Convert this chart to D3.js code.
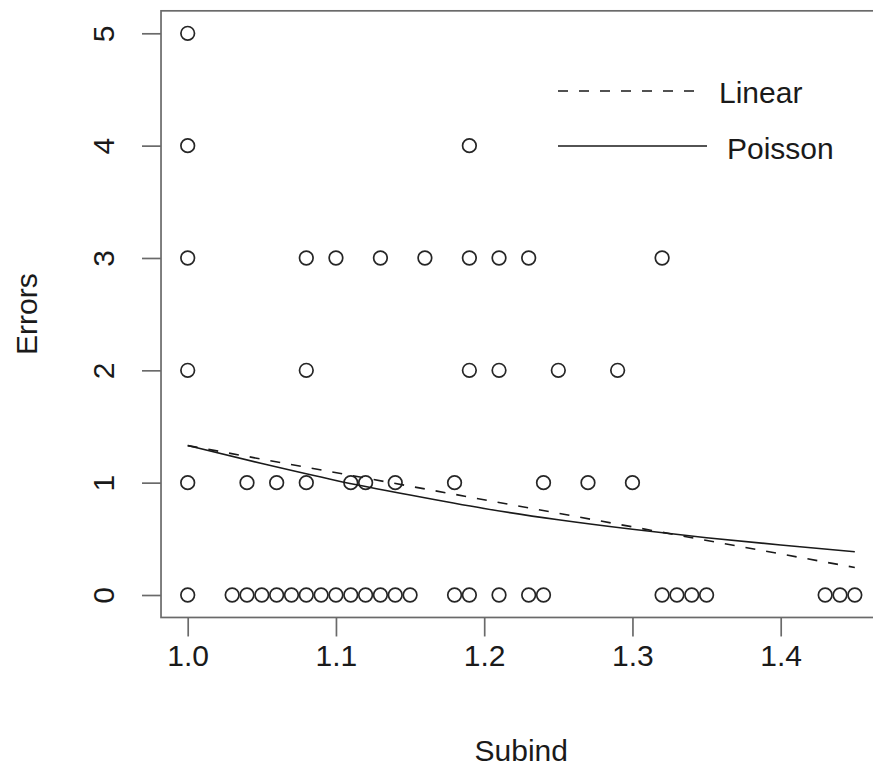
<!DOCTYPE html>
<html>
<head>
<meta charset="utf-8">
<script src="https://cdn.jsdelivr.net/npm/d3@7"></script>
<style>
  html, body { margin: 0; padding: 0; background: #fff; }
  svg { display: block; }
  text { font-family: "Liberation Sans", Arial, Helvetica, sans-serif; fill: #1a1a1a; }
</style>
</head>
<body>
<svg id="chart" width="873" height="769"></svg>
<script>
// Observed subject index (Subind) and error counts (Errors)
const subind = [
  1.00, 1.03, 1.04, 1.05, 1.06, 1.07, 1.08, 1.09, 1.10, 1.11, 1.12, 1.13, 1.14, 1.15,
  1.18, 1.19, 1.21, 1.23, 1.24, 1.32, 1.33, 1.34, 1.35, 1.43, 1.44, 1.45,
  1.00, 1.04, 1.06, 1.08, 1.11, 1.12, 1.14, 1.18, 1.24, 1.27, 1.30,
  1.00, 1.08, 1.19, 1.21, 1.25, 1.29,
  1.00, 1.08, 1.10, 1.13, 1.16, 1.19, 1.21, 1.23, 1.32,
  1.00, 1.19,
  1.00
];
const errors = [
  0, 0, 0, 0, 0, 0, 0, 0, 0, 0, 0, 0, 0, 0,
  0, 0, 0, 0, 0, 0, 0, 0, 0, 0, 0, 0,
  1, 1, 1, 1, 1, 1, 1, 1, 1, 1, 1,
  2, 2, 2, 2, 2, 2,
  3, 3, 3, 3, 3, 3, 3, 3, 3,
  4, 4,
  5
];

// Fitted curves
const linearX = [1.00, 1.45];
const linearY = [1.33, 0.245];
const poissonX = [1.00, 1.05, 1.10, 1.15, 1.20, 1.25, 1.30, 1.35, 1.40, 1.45];
const poissonY = [1.33, 1.17, 1.02, 0.89, 0.77, 0.67, 0.585, 0.51, 0.445, 0.385];

const xTicks = [1.0, 1.1, 1.2, 1.3, 1.4];
const yTicks = [0, 1, 2, 3, 4, 5];
const legendLabels = ["Linear", "Poisson"];

const svg = d3.select("#chart");
svg.append("rect").attr("width", 873).attr("height", 769).attr("fill", "#fff");

const x = d3.scaleLinear().domain([1.0, 1.4]).range([187.7, 780.7]);
const y = d3.scaleLinear().domain([0, 5]).range([595, 33.3]);

// Plot region (data range padded by 4%)
const xLo = x(0.982), xHi = x(1.468);
const yLo = y(-0.2), yHi = y(5.2);

const axisColor = "#6a6a6a";
const fontSize = 30;

// Frame
svg.append("rect")
  .attr("x", xLo).attr("y", yHi)
  .attr("width", xHi - xLo).attr("height", yLo - yHi)
  .attr("fill", "none").attr("stroke", axisColor).attr("stroke-width", 1.7);

// Bottom axis
const xAxis = d3.axisBottom(x).tickValues(xTicks).tickSize(19).tickSizeOuter(0)
  .tickFormat(d3.format(".1f"));
const gx = svg.append("g").attr("transform", `translate(0,${yLo})`).call(xAxis);
gx.select(".domain").remove();
gx.selectAll(".tick line").attr("stroke", axisColor).attr("stroke-width", 1.7);
gx.selectAll(".tick text")
  .attr("font-size", fontSize).attr("fill", "#1a1a1a")
  .attr("font-family", "Liberation Sans, Arial, sans-serif")
  .attr("y", 0).attr("dy", null)
  .attr("transform", `translate(0,${655 - yLo})`)
  .attr("dominant-baseline", "central");

// Left axis
const yAxis = d3.axisLeft(y).tickValues(yTicks).tickSize(19).tickSizeOuter(0)
  .tickFormat(d3.format("d"));
const gy = svg.append("g").attr("transform", `translate(${xLo},0)`).call(yAxis);
gy.select(".domain").remove();
gy.selectAll(".tick line").attr("stroke", axisColor).attr("stroke-width", 1.7);
gy.selectAll(".tick text")
  .attr("font-size", fontSize).attr("fill", "#1a1a1a")
  .attr("font-family", "Liberation Sans, Arial, sans-serif")
  .attr("x", 0).attr("dy", null)
  .attr("text-anchor", "middle")
  .attr("dominant-baseline", "central")
  .attr("transform", `translate(${103 - xLo},0) rotate(-90)`);

// Axis titles
svg.append("text")
  .attr("x", (xLo + xHi) / 2).attr("y", 750)
  .attr("text-anchor", "middle").attr("dominant-baseline", "central")
  .attr("font-size", fontSize).text("Subind");
svg.append("text")
  .attr("transform", `translate(26,${(yLo + yHi) / 2}) rotate(-90)`)
  .attr("text-anchor", "middle").attr("dominant-baseline", "central")
  .attr("font-size", fontSize).text("Errors");

// Points
svg.append("g").selectAll("circle")
  .data(d3.range(subind.length))
  .join("circle")
  .attr("cx", i => x(subind[i]))
  .attr("cy", i => y(errors[i]))
  .attr("r", 6.8)
  .attr("fill", "none")
  .attr("stroke", "#262626")
  .attr("stroke-width", 1.7);

// Fitted lines
const line = d3.line().x(d => x(d[0])).y(d => y(d[1]));
svg.append("path")
  .attr("d", line(linearX.map((v, i) => [v, linearY[i]])))
  .attr("fill", "none").attr("stroke", "#1a1a1a").attr("stroke-width", 1.6)
  .attr("stroke-dasharray", "10,11");
svg.append("path")
  .attr("d", line.curve(d3.curveMonotoneX)(poissonX.map((v, i) => [v, poissonY[i]])))
  .attr("fill", "none").attr("stroke", "#1a1a1a").attr("stroke-width", 1.6);

// Legend
const legend = svg.append("g");
legend.append("line")
  .attr("x1", 558).attr("x2", 696).attr("y1", 91).attr("y2", 91)
  .attr("stroke", "#1a1a1a").attr("stroke-width", 1.6)
  .attr("stroke-dasharray", "10,11");
legend.append("text")
  .attr("x", 719).attr("y", 92).attr("dominant-baseline", "central")
  .attr("font-size", fontSize).text(legendLabels[0]);
legend.append("line")
  .attr("x1", 558).attr("x2", 707).attr("y1", 146).attr("y2", 146)
  .attr("stroke", "#1a1a1a").attr("stroke-width", 1.6);
legend.append("text")
  .attr("x", 727).attr("y", 148).attr("dominant-baseline", "central")
  .attr("font-size", fontSize).text(legendLabels[1]);
</script>
</body>
</html>
